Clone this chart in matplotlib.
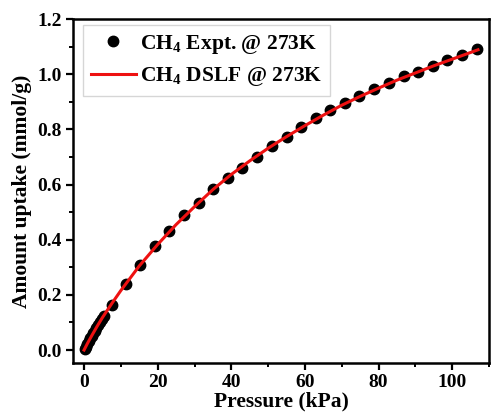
import matplotlib
matplotlib.use("Agg")
import matplotlib.pyplot as plt
from matplotlib.ticker import MultipleLocator

plt.rcParams["font.family"] = ["Liberation Serif", "DejaVu Serif"]
plt.rcParams["font.weight"] = "bold"
plt.rcParams["mathtext.fontset"] = "custom"
plt.rcParams["mathtext.rm"] = "Liberation Serif:bold"
plt.rcParams["mathtext.bf"] = "Liberation Serif:bold"

# Experimental CH4 isotherm at 273 K
pressure_expt = [0.2, 0.5, 0.9, 1.3, 1.7, 2.1, 2.5, 2.9, 3.3, 3.8, 4.3, 4.8, 5.3,
                 7.5, 11.3, 15.3, 19.2, 23.2, 27.1, 31.1, 35.0, 39.0, 43.0, 47.1,
                 51.0, 55.0, 58.8, 62.9, 66.8, 70.8, 74.8, 78.8, 82.9, 86.8, 90.8,
                 94.9, 98.7, 102.7, 106.6]
uptake_expt = [0.004, 0.012, 0.022, 0.032, 0.042, 0.052, 0.061, 0.070, 0.079, 0.090,
               0.101, 0.112, 0.123, 0.164, 0.240, 0.309, 0.376, 0.430, 0.488, 0.533,
               0.584, 0.624, 0.660, 0.700, 0.740, 0.773, 0.810, 0.840, 0.870, 0.897,
               0.921, 0.948, 0.970, 0.994, 1.009, 1.030, 1.051, 1.069, 1.093]

# Dual-site Langmuir-Freundlich fit curve
pressure_fit = [0, 1, 2, 3.5, 5, 7.5, 10, 15, 20, 25, 30, 35, 40, 45, 50, 55, 60, 65,
                70, 75, 80, 85, 90, 95, 100, 107]
uptake_fit = [0.0, 0.026, 0.050, 0.085, 0.118, 0.168, 0.216, 0.305, 0.383, 0.455,
              0.520, 0.582, 0.637, 0.686, 0.732, 0.774, 0.814, 0.852, 0.888, 0.920,
              0.950, 0.979, 1.005, 1.031, 1.055, 1.089]

fig = plt.figure(figsize=(4.91, 4.17), dpi=100)
ax = fig.add_axes([0.1487, 0.1295, 0.8473, 0.8245])

ax.plot(pressure_expt, uptake_expt, "o", color="black", markersize=7.5,
        label=r"CH$_\mathbf{4}$ Expt. @ 273K", zorder=2)
ax.plot(pressure_fit, uptake_fit, "-", color="#ee1111", linewidth=2.2,
        label=r"CH$_\mathbf{4}$ DSLF @ 273K", zorder=3)

ax.set_xlim(-3, 110)
ax.set_ylim(-0.047, 1.2)
ax.xaxis.set_major_locator(MultipleLocator(20))
ax.xaxis.set_minor_locator(MultipleLocator(10))
ax.yaxis.set_major_locator(MultipleLocator(0.2))
ax.yaxis.set_minor_locator(MultipleLocator(0.1))
ax.yaxis.set_major_formatter(matplotlib.ticker.FormatStrFormatter("%.1f"))

for s in ax.spines.values():
    s.set_linewidth(1.8)
ax.tick_params(which="major", direction="out", length=5, width=1.6,
               labelsize=14, pad=3)
ax.tick_params(which="minor", direction="out", length=3, width=1.4)

ax.set_xlabel("Pressure (kPa)", fontsize=15.5, fontweight="bold", labelpad=0)
ax.set_ylabel("Amount uptake (mmol/g)", fontsize=15.5, fontweight="bold", labelpad=4)

leg = ax.legend(loc="upper left", bbox_to_anchor=(0.024, 0.983), borderaxespad=0,
                fontsize=15.5, frameon=True, fancybox=False, edgecolor="#cccccc",
                handlelength=2.1, borderpad=0.35, labelspacing=0.45,
                handletextpad=0.2)
leg.get_frame().set_linewidth(1.0)

fig.savefig("out.png", dpi=100)
